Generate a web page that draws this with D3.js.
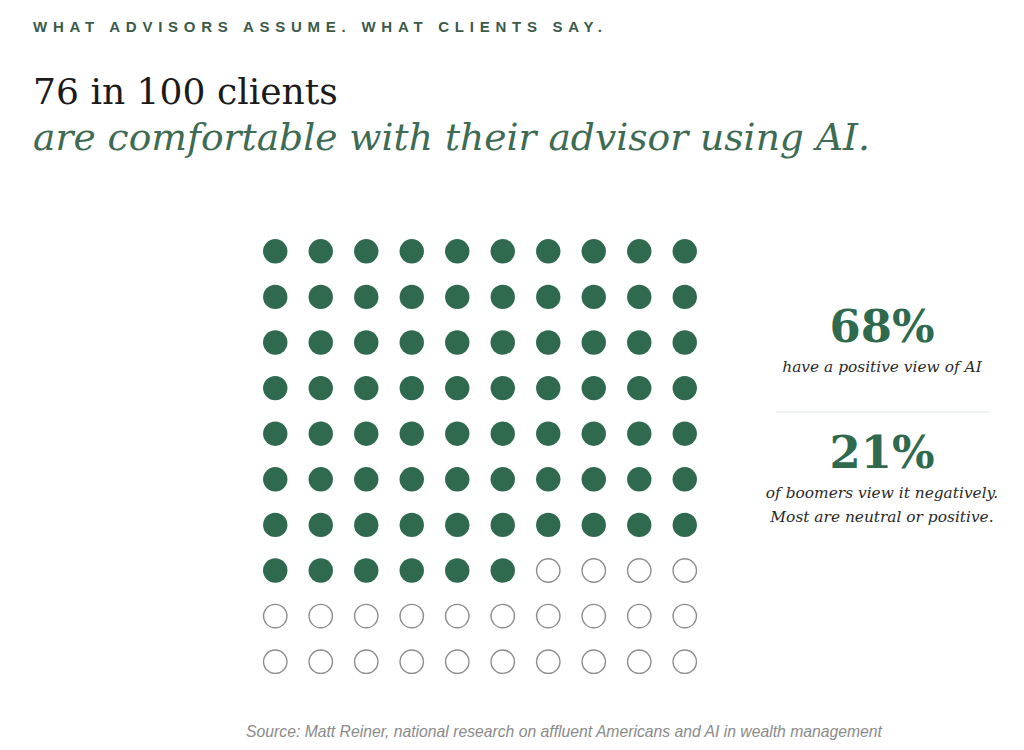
<!DOCTYPE html>
<html><head><meta charset="utf-8">
<script src="https://cdn.jsdelivr.net/npm/d3@7"></script>
<style>body{margin:0;background:#fff;}svg{display:block;}</style>
</head><body>
<script>
const totalDots = 100;
const comfortable = [76];
const gridCols = d3.range(10);
const gridRows = d3.range(10);
const statValues = ["68%", "21%"];
const statLines = [["have a positive view of AI"], ["of boomers view it negatively.", "Most are neutral or positive."]];
const kicker = "WHAT ADVISORS ASSUME. WHAT CLIENTS SAY.";
const titleLine1 = "76 in 100 clients";
const titleLine2 = "are comfortable with their advisor using AI.";
const source = "Source: Matt Reiner, national research on affluent Americans and AI in wealth management";

const W = 1024, H = 750;
const green = "#2f6a4f";
const svg = d3.select("body").append("svg").attr("width", W).attr("height", H);
const serif = "'DejaVu Serif',serif";
const sans = "'Liberation Sans',Arial,sans-serif";

// scale a text's font-size so its rendered width matches the reference width
function fit(sel, width) {
  const fs = +sel.attr("font-size");
  const w = sel.node().getComputedTextLength();
  sel.attr("font-size", fs * width / w);
  return sel;
}

svg.append("text").attr("x", 33).attr("y", 32).text(kicker)
  .attr("font-family", sans).attr("font-weight", 700)
  .attr("font-size", 15).attr("letter-spacing", "5.75px").attr("fill", "#3b5a4a");

fit(svg.append("text").attr("x", 33).attr("y", 104).text(titleLine1)
  .attr("font-family", serif).attr("font-size", 34).attr("fill", "#1b1b1b"), 305);
fit(svg.append("text").attr("x", 33).attr("y", 150).text(titleLine2)
  .attr("font-family", serif).attr("font-style", "italic").attr("font-size", 34).attr("fill", "#3d6b53"), 837);

const x = d3.scaleBand().domain(gridCols).range([252.5, 707.5]);
const y = d3.scaleBand().domain(gridRows).range([228.5, 684.5]);
const dots = d3.range(totalDots).map(i => ({i, col: i % 10, row: Math.floor(i / 10), filled: i < comfortable[0]}));

svg.append("g").selectAll("circle").data(dots).join("circle")
  .attr("cx", d => x(d.col) + x.bandwidth() / 2)
  .attr("cy", d => y(d.row) + y.bandwidth() / 2)
  .attr("r", d => d.filled ? 12.2 : 11.7)
  .attr("fill", d => d.filled ? green : "#fff")
  .attr("stroke", d => d.filled ? "none" : "#8c8c8c")
  .attr("stroke-width", 1.4);

const cx = 882;
const valY = [342, 468];
const lineY = [[372], [498, 522]];
statValues.forEach((v, k) => {
  fit(svg.append("text").attr("x", cx).attr("y", valY[k]).attr("text-anchor", "middle").text(v)
    .attr("font-family", serif).attr("font-weight", 700).attr("font-size", 38).attr("fill", green), 105);
  statLines[k].forEach((l, j) => svg.append("text").attr("x", cx).attr("y", lineY[k][j])
    .attr("text-anchor", "middle").text(l).attr("font-family", serif).attr("font-style", "italic")
    .attr("font-size", 15.4).attr("fill", "#2a2a2a"));
});

svg.append("line").attr("x1", 776).attr("x2", 990).attr("y1", 412).attr("y2", 412)
  .attr("stroke", "#dfeae8").attr("stroke-width", 1.2);

fit(svg.append("text").attr("x", 564).attr("y", 737).attr("text-anchor", "middle").text(source)
  .attr("font-family", sans).attr("font-style", "italic")
  .attr("font-size", 13.5).attr("fill", "#8a8a8a"), 636);
</script>
</body></html>
